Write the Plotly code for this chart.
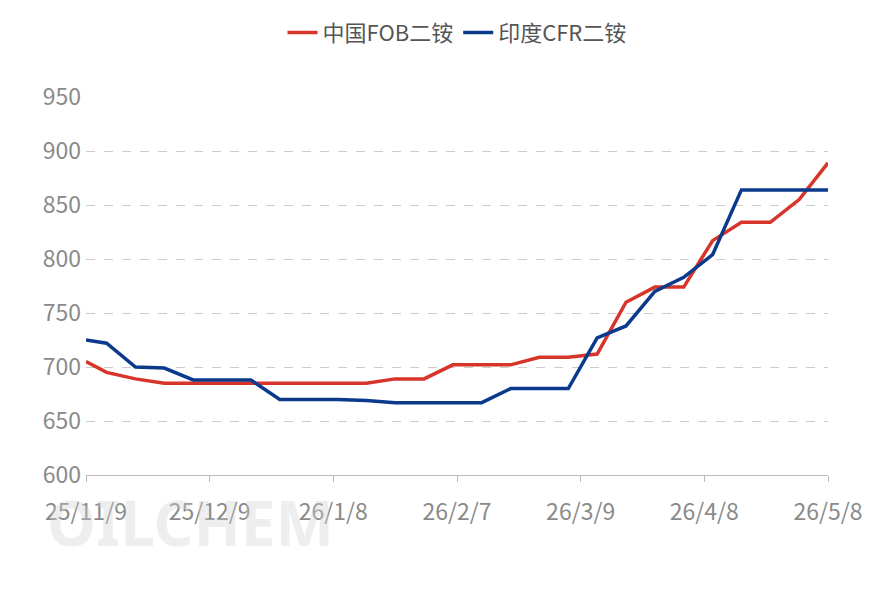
import plotly.graph_objects as go
import pandas as pd

dates = ["2025-11-09"] + [d.strftime("%Y-%m-%d") for d in pd.date_range("2025-11-14", periods=26, freq="7D")]
china_fob = [705, 695, 689, 685, 685, 685, 685, 685, 685, 685, 685, 689, 689, 702, 702, 702, 709, 709, 712, 760, 774, 774, 817, 834, 834, 855, 889]
india_cfr = [725, 722, 700, 699, 688, 688, 688, 670, 670, 670, 669, 667, 667, 667, 667, 680, 680, 680, 727, 738, 770, 783, 804, 864, 864, 864, 864]
tick_vals = ["2025-11-09", "2025-12-09", "2026-01-08", "2026-02-07", "2026-03-09", "2026-04-08", "2026-05-08"]
tick_text = ["25/11/9", "25/12/9", "26/1/8", "26/2/7", "26/3/9", "26/4/8", "26/5/8"]

fig = go.Figure()
fig.add_trace(go.Scatter(x=dates, y=china_fob, name="中国FOB二铵", mode="lines", line=dict(color="#D7342A", width=3.5)))
fig.add_trace(go.Scatter(x=dates, y=india_cfr, name="印度CFR二铵", mode="lines", line=dict(color="#0B3A8C", width=3.5)))
fig.add_annotation(text="<b>OILCHEM</b>", x=-0.055, y=-0.125, xref="paper", yref="paper", xanchor="left", yanchor="middle",
                   showarrow=False, font=dict(size=62, color="rgba(205,205,205,0.35)", family="Noto Sans"))
fig.update_layout(
    width=886, height=591, plot_bgcolor="white", paper_bgcolor="white",
    margin=dict(l=78, r=66, t=89, b=124, autoexpand=False),
    font=dict(family="Noto Sans CJK SC", color="#8A8A8A", size=23),
    legend=dict(orientation="h", x=0.5, xanchor="center", y=1.17, yanchor="middle", font=dict(size=22, color="#555555")),
    xaxis=dict(type="date", range=["2025-11-09", "2026-05-08"], tickvals=tick_vals, ticktext=tick_text, automargin=False,
               showgrid=False, showline=True, linecolor="#BBBBBB", ticks="outside", tickcolor="#BBBBBB", ticklen=6,
               ticklabelstandoff=10),
    yaxis=dict(range=[600, 950], dtick=50, showgrid=True, gridcolor="#CCCCCC", griddash="dash", zeroline=False,
               automargin=False, ticklabelstandoff=4),
)
fig.write_html("out.html")
